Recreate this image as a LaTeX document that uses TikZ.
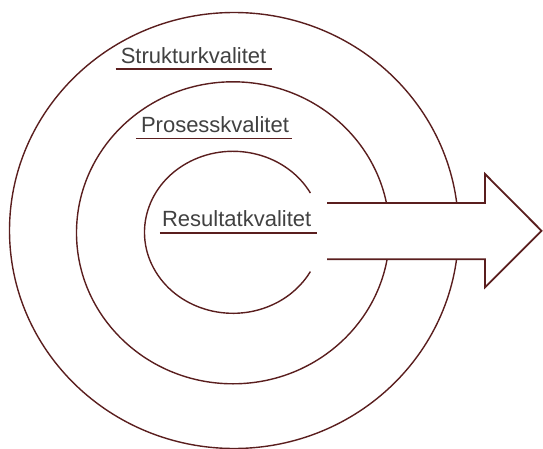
\documentclass[tikz,border=0pt]{standalone}
\usepackage{fontspec}
\setmainfont{Liberation Sans}
\definecolor{ringcol}{RGB}{90,30,30}
\definecolor{txtcol}{RGB}{65,65,65}
\begin{document}
\begin{tikzpicture}[x=1pt,y=1pt,
  ring/.style={draw=ringcol,line width=1.4pt},
  arrowline/.style={draw=ringcol,line width=1.8pt,line join=miter},
  uline/.style={draw=ringcol,line width=1.8pt},
  label/.style={inner sep=0pt,anchor=base,text=txtcol,font=\fontsize{22}{26}\selectfont}]
\useasboundingbox (0,0) rectangle (543,448);
% rings
\draw[ring] (234,217.5) ellipse[x radius=224.5,y radius=218];
\draw[ring] (233,215.2) ellipse[x radius=156.5,y radius=151];
\draw[ring] (233,215.7) ++(29:88.5 and 81) arc[start angle=29,end angle=331,x radius=88.5,y radius=81];
% arrow
\coordinate (a1) at (327,245);
\coordinate (a2) at (485,245);
\coordinate (a3) at (485,274);
\coordinate (tip) at (541.5,217.2);
\coordinate (a5) at (485,160.7);
\coordinate (a6) at (485,188.7);
\coordinate (a7) at (327,188.7);
\fill[white] (a1) -- (a2) -- (a3) -- (tip) -- (a5) -- (a6) -- (a7) -- cycle;
\draw[arrowline] (a1) -- (a2) -- (a3) -- (tip) -- (a5) -- (a6) -- (a7);
% labels
\node[label] (s) at (193.5,384.7) {Strukturkvalitet};
\node[label] (p) at (215,315.5) {Prosesskvalitet};
\node[label] (r) at (236.7,221.3) {Resultatkvalitet};
\draw[uline] ([xshift=-5pt,yshift=-6pt]s.base west) -- ([xshift=6pt,yshift=-6pt]s.base east);
\draw[uline] ([xshift=-5pt,yshift=-6pt]p.base west) -- ([xshift=3pt,yshift=-6pt]p.base east);
\draw[uline] ([xshift=-2pt,yshift=-6.5pt]r.base west) -- ([xshift=6pt,yshift=-6.5pt]r.base east);
\end{tikzpicture}
\end{document}
